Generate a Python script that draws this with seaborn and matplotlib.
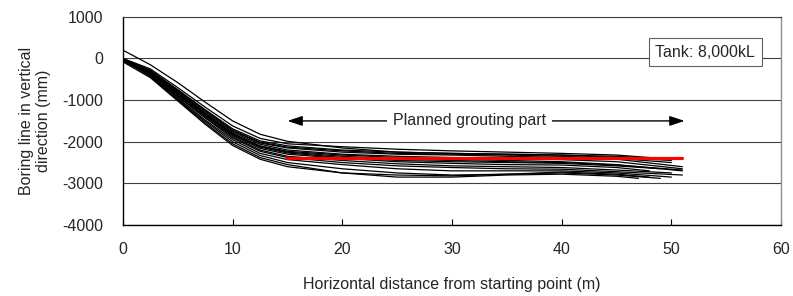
import numpy as np
import pandas as pd
import matplotlib
matplotlib.use('Agg')
import matplotlib.pyplot as plt
import seaborn as sns

# horizontal positions (m) where every boring line is read
x_pts = [0, 2.5, 5, 7.5, 10, 12.5, 15, 20, 25, 30, 35, 40, 45]

# vertical position (mm) of each boring line at x_pts
line_01 = [200, -150, -580, -1050, -1500, -1820, -1990, -2150, -2250, -2280, -2300, -2320, -2350]
line_02 = [0, -250, -700, -1170, -1620, -1920, -2050, -2120, -2180, -2220, -2250, -2280, -2320]
line_03 = [0, -280, -750, -1230, -1690, -1980, -2100, -2200, -2250, -2280, -2300, -2320, -2380]
line_04 = [-50, -300, -780, -1280, -1740, -2030, -2150, -2250, -2300, -2320, -2350, -2380, -2420]
line_05 = [0, -320, -800, -1310, -1770, -2060, -2200, -2300, -2350, -2380, -2400, -2430, -2480]
line_06 = [-30, -330, -820, -1330, -1800, -2100, -2230, -2320, -2380, -2420, -2450, -2480, -2550]
line_07 = [0, -350, -850, -1360, -1830, -2130, -2270, -2380, -2450, -2480, -2500, -2520, -2580]
line_08 = [-20, -360, -870, -1380, -1850, -2160, -2300, -2400, -2480, -2520, -2550, -2560, -2620]
line_09 = [0, -380, -900, -1410, -1880, -2200, -2350, -2450, -2530, -2580, -2600, -2620, -2680]
line_10 = [-40, -400, -920, -1430, -1910, -2230, -2380, -2500, -2580, -2620, -2650, -2660, -2720]
line_11 = [0, -400, -950, -1480, -1950, -2280, -2430, -2550, -2650, -2700, -2700, -2700, -2750]
line_12 = [-60, -420, -980, -1510, -2000, -2330, -2500, -2650, -2750, -2800, -2780, -2750, -2800]
line_13 = [0, -440, -1000, -1550, -2050, -2380, -2550, -2750, -2850, -2850, -2800, -2780, -2830]
line_14 = [-10, -300, -760, -1250, -1720, -2010, -2130, -2220, -2280, -2300, -2320, -2350, -2400]
line_15 = [0, -340, -830, -1340, -1810, -2110, -2250, -2350, -2420, -2450, -2480, -2500, -2560]
line_16 = [-80, -460, -1020, -1580, -2090, -2420, -2600, -2750, -2800, -2820, -2780, -2730, -2780]

# where each line stops
end_x = [47, 49, 50, 51, 51, 51, 49, 48, 50, 51, 50, 49, 47, 50, 51, 48]
end_y = [-2380, -2400, -2450, -2600, -2650, -2700, -2650, -2700, -2750, -2800,
         -2850, -2880, -2880, -2500, -2680, -2850]

# planned grouting level
plan_x = [15, 51]
plan_y = [-2400, -2400]

lines = [line_01, line_02, line_03, line_04, line_05, line_06, line_07, line_08,
         line_09, line_10, line_11, line_12, line_13, line_14, line_15, line_16]

rows = []
for i, ys in enumerate(lines):
    for xv, yv in zip(x_pts + [end_x[i]], ys + [end_y[i]]):
        rows.append({'line': i, 'x': xv, 'y': yv})
df = pd.DataFrame(rows)
plan = pd.DataFrame({'x': plan_x, 'y': plan_y})

sns.set_style('white')
plt.rcParams['font.family'] = ['Liberation Sans', 'DejaVu Sans']
plt.rcParams['axes.unicode_minus'] = False
fs = 11.5

fig = plt.figure(figsize=(7.93, 2.96), dpi=100)
ax = fig.add_axes([0.155, 0.24, 0.83, 0.703])

sns.lineplot(data=df, x='x', y='y', units='line', estimator=None, sort=False,
             color='black', linewidth=0.9, ax=ax)
sns.lineplot(data=plan, x='x', y='y', color='red', linewidth=2.3, ax=ax)

ax.set_xlim(0, 60)
ax.set_ylim(-4000, 1000)
ax.set_xticks(range(0, 61, 10))
ax.set_yticks(range(-4000, 1001, 1000))
ax.yaxis.grid(True, color='#404040', linewidth=0.8)
ax.set_axisbelow(True)
ax.tick_params(axis='x', direction='in', length=4, width=0.8, color='black',
               labelsize=fs, pad=12, bottom=True)
ax.tick_params(axis='y', length=0, labelsize=fs, pad=14)

for side in ['left', 'bottom']:
    ax.spines[side].set_color('black')
    ax.spines[side].set_linewidth(1.0)
ax.spines['top'].set_color('#404040')
ax.spines['top'].set_linewidth(0.8)
ax.spines['right'].set_color('#909090')
ax.spines['right'].set_linewidth(1.0)

ax.set_xlabel('Horizontal distance from starting point (m)', fontsize=fs, labelpad=15)
ax.set_ylabel('Boring line in vertical\ndirection (mm)', fontsize=fs, labelpad=8,
              linespacing=1.2)

ax.annotate('', xy=(15, -1500), xytext=(51.2, -1500),
            arrowprops=dict(arrowstyle='<|-|>,head_length=0.9,head_width=0.3',
                            color='black', linewidth=1.0, shrinkA=0, shrinkB=0))
ax.text(31.6, -1500, 'Planned grouting part', fontsize=fs, ha='center', va='center',
        bbox=dict(facecolor='white', edgecolor='none', pad=4))

ax.text(0.885, 0.83, 'Tank: 8,000kL', transform=ax.transAxes, fontsize=fs,
        ha='center', va='center',
        bbox=dict(facecolor='white', edgecolor='#606060', linewidth=0.8,
                  boxstyle='square,pad=0.4'))

fig.savefig('out.png', dpi=100)
